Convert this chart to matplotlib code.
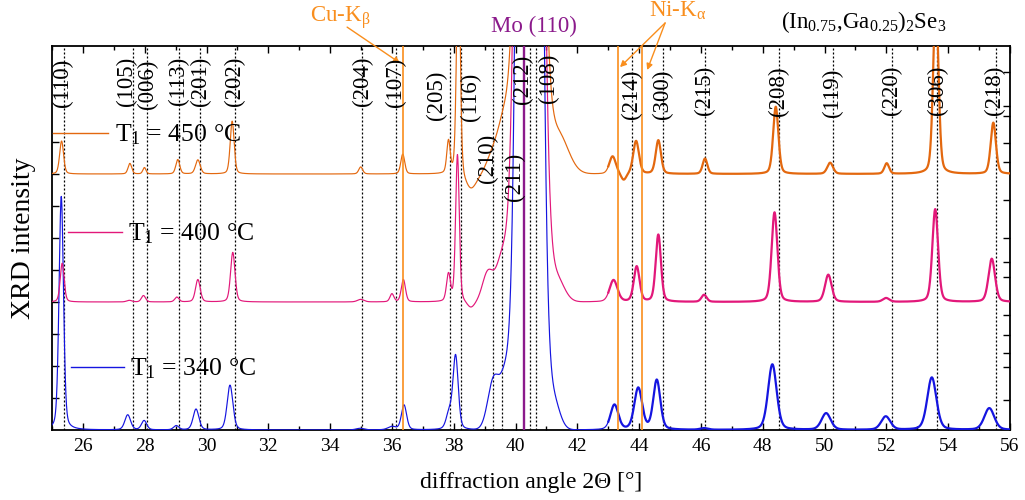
import numpy as np
import matplotlib
matplotlib.use('Agg')
import matplotlib.pyplot as plt

plt.rcParams['font.family'] = ['Liberation Serif', 'DejaVu Serif']
plt.rcParams['mathtext.fontset'] = 'custom'
plt.rcParams['mathtext.rm'] = 'Liberation Serif'
plt.rcParams['mathtext.it'] = 'Liberation Serif:italic'
plt.rcParams['mathtext.bf'] = 'Liberation Serif:bold'

# ---------------- data ----------------
# peak tables (position [deg], height above curve baseline [a.u.], FWHM [deg])
blue_pos = [25.30, 27.45, 27.98, 29.02, 29.66, 30.76, 34.97, 36.00, 36.39, 37.85, 38.06,
            43.20, 43.97, 44.57, 46.10, 48.31, 50.05, 51.98, 53.47, 55.33]
blue_h = [7.3, 0.47, 0.29, 0.13, 0.65, 1.40, 0.05, 0.10, 0.78, 0.50, 2.30,
          0.78, 1.30, 1.55, 0.05, 2.05, 0.52, 0.42, 1.64, 0.68]
blue_w = [0.17, 0.22, 0.20, 0.20, 0.22, 0.22, 0.30, 0.30, 0.20, 0.22, 0.20,
          0.30, 0.30, 0.27, 0.30, 0.33, 0.35, 0.35, 0.35, 0.38]
blue_mo_pos = [39.30, 39.70, 40.45, 41.20]
blue_mo_h = [1.6, 1.6, 100.0, 1.0]
blue_mo_w = [0.45, 0.40, 0.55, 0.50]

pink_pos = [25.33, 27.50, 27.96, 29.04, 29.72, 30.85, 34.99, 36.00, 36.37, 37.83, 38.12,
            38.55, 43.17, 43.92, 44.62, 46.10, 48.38, 50.12, 51.99, 53.58, 55.41]
pink_h = [1.21, 0.05, 0.20, 0.15, 0.70, 1.55, 0.08, 0.25, 0.70, 0.85, 4.60,
          -0.20, 0.68, 1.10, 2.10, 0.22, 2.80, 0.85, 0.12, 2.90, 1.35]
pink_w = [0.15, 0.20, 0.16, 0.16, 0.18, 0.17, 0.25, 0.15, 0.16, 0.15, 0.14,
          0.30, 0.30, 0.22, 0.20, 0.20, 0.22, 0.25, 0.25, 0.22, 0.25]
pink_mo_pos = [39.10, 39.60, 40.45, 41.30]
pink_mo_h = [0.9, 1.5, 82.0, 0.8]
pink_mo_w = [0.40, 0.50, 0.60, 0.60]

orange_pos = [25.31, 27.52, 27.99, 29.07, 29.72, 30.83, 34.99, 36.35, 37.83, 38.15,
              38.55, 43.14, 43.50, 43.90, 44.62, 46.13, 48.42, 50.18, 52.01, 53.60, 55.46]
orange_h = [1.03, 0.33, 0.20, 0.45, 0.44, 1.65, 0.22, 0.62, 1.00, 7.00,
            -0.50, 0.55, -0.22, 1.03, 1.05, 0.48, 2.10, 0.35, 0.33, 5.50, 1.60]
orange_w = [0.15, 0.14, 0.12, 0.15, 0.18, 0.15, 0.15, 0.15, 0.13, 0.14,
            0.45, 0.25, 0.20, 0.22, 0.20, 0.18, 0.20, 0.22, 0.18, 0.20, 0.20]
orange_mo_pos = [39.30, 39.65, 40.45, 41.35]
orange_mo_h = [0.7, 1.5, 40.0, 1.3]
orange_mo_w = [0.50, 0.45, 0.65, 0.80]

curve_offsets = [0, 4, 8]
curve_labels = [r'T$_\mathrm{1}$ = 340 °C', r'T$_\mathrm{1}$ = 400 °C', r'T$_\mathrm{1}$ = 450 °C']

# reflections of (In0.75,Ga0.25)2Se3 (dotted lines) and their labels
refl_pos = [25.40, 27.61, 28.06, 29.10, 29.80, 30.92, 35.04, 36.13, 37.89, 38.23,
            39.28, 39.57, 40.46, 40.65, 43.78, 44.78, 46.13, 48.53, 50.27, 52.17,
            53.65, 55.54]
refl_labels = ['(110)', '(105)', '(006)', '(113)', '(201)', '(202)', '(204)', '(107)',
               '(205)', '(116)', '(210)', '(211)', '(212)', '(108)', '(214)', '(300)',
               '(215)', '(208)', '(119)', '(220)', '(306)', '(218)']
label_x = [25.35, 27.40, 28.10, 29.10, 29.80, 30.90, 35.04, 36.10, 37.45, 38.55,
           39.08, 39.98, 40.22, 41.05, 43.75, 44.75, 46.10, 48.50, 50.25, 52.15,
           53.65, 55.50]
label_y = [10.85, 10.9, 10.8, 10.9, 10.9, 10.9, 10.9, 10.85, 10.45, 10.4,
           8.5, 7.9, 10.95, 11.0, 10.5, 10.5, 10.6, 10.6, 10.55, 10.6, 10.6, 10.6]

cu_kb_pos = [36.37]
ni_ka_pos = [43.30, 44.09]
mo_pos = [40.28]

right_ticks = [0.94, 1.97, 2.41, 2.97, 3.59, 4.78, 5.25, 6.0, 7.19, 8.38, 8.97, 9.81, 10.13, 11.19]

# ---------------- drawing ----------------
c_orange = '#E3680F'
c_pink = '#E2187A'
c_blue = '#1515E0'
c_line_or = '#F98E1D'
c_purple = '#8B1A8B'


def peak_sum(x, pos, h, w, eta):
    y = np.zeros_like(x)
    for p, a, fw in zip(pos, h, w):
        d = (x - p) / fw
        g = np.exp(-4 * np.log(2) * d ** 2)
        lo = 1.0 / (1 + 4 * d ** 2)
        y += a * ((1 - eta) * g + eta * lo)
    return y


x = np.linspace(25, 56, 8000)
curves = []
for off, (p, h, w), (mp, mh, mw) in zip(
        curve_offsets,
        [(blue_pos, blue_h, blue_w), (pink_pos, pink_h, pink_w), (orange_pos, orange_h, orange_w)],
        [(blue_mo_pos, blue_mo_h, blue_mo_w), (pink_mo_pos, pink_mo_h, pink_mo_w),
         (orange_mo_pos, orange_mo_h, orange_mo_w)]):
    curves.append(off + peak_sum(x, p, h, w, 0.3) + peak_sum(x, mp, mh, mw, 0.0))

fig = plt.figure(figsize=(10.25, 5), dpi=100)
ax = fig.add_axes([52 / 1025, 70 / 500, 958 / 1025, 384 / 500])
ax.set_xlim(25, 56)
ax.set_ylim(0, 12)

# reference lines
for xp in refl_pos:
    ax.axvline(xp, color='black', lw=0.9, ls=(0, (1.6, 1.6)), zorder=1)

colors = [c_blue, c_pink, c_orange]
split = 43.0
for yc, col in zip(curves, colors):
    m1 = x <= split
    m2 = x >= split
    ax.plot(x[m1], yc[m1], color=col, lw=0.85, zorder=3)
    ax.plot(x[m2], yc[m2], color=col, lw=1.6, zorder=3)

for xp in cu_kb_pos + ni_ka_pos:
    ax.axvline(xp, color=c_line_or, lw=1.2, zorder=4)
for xp in mo_pos:
    ax.axvline(xp, color=c_purple, lw=1.7, zorder=4)

# reflection labels
for lx, ly, lt in zip(label_x, label_y, refl_labels):
    ax.text(lx, ly, lt, rotation=90, ha='center', va='center', fontsize=16.5, zorder=5)

# legend-like entries inside the axes
leg = [((0.001, 0.058), 0.773, 0.066, 0.751, c_orange, curve_labels[2]),
       ((0.0167, 0.073), 0.516, 0.079, 0.495, c_pink, curve_labels[1]),
       ((0.0198, 0.075), 0.164, 0.081, 0.143, c_blue, curve_labels[0])]
for (x0, x1), yl, xt, yt, col, lab in leg:
    ax.plot([x0, x1], [yl, yl], color=col, lw=1.0, transform=ax.transAxes, zorder=6)
    ax.text(xt, yt, lab, transform=ax.transAxes, fontsize=18.5, va='baseline', ha='left', zorder=6)

# annotations above the axes
ax.text(34.32, 12.76, r'Cu-K$_\mathrm{β}$', color=c_line_or, fontsize=16.5, ha='center',
        va='baseline', clip_on=False)
ax.annotate('', xy=(36.26, 11.47), xytext=(34.55, 12.59), annotation_clip=False,
            arrowprops=dict(arrowstyle='-|>', color=c_line_or, lw=1.0, mutation_scale=9,
                            shrinkA=0, shrinkB=0))
ax.text(45.23, 12.92, r'Ni-K$_\mathrm{α}$', color=c_line_or, fontsize=16.5, ha='center',
        va='baseline', clip_on=False)
for tip in [(43.38, 11.34), (44.26, 11.25)]:
    ax.annotate('', xy=tip, xytext=(44.84, 12.72), annotation_clip=False,
                arrowprops=dict(arrowstyle='-|>', color=c_line_or, lw=1.0, mutation_scale=9,
                                shrinkA=0, shrinkB=0))
ax.text(40.6, 12.44, 'Mo (110)', color=c_purple, fontsize=16.5, ha='center', va='baseline',
        clip_on=False)
ax.text(51.25, 12.55, r'(In$_\mathrm{0.75}$,Ga$_\mathrm{0.25}$)$_\mathrm{2}$Se$_\mathrm{3}$',
        color='black', fontsize=16.5, ha='center', va='baseline', clip_on=False)

# axes styling
ax.set_xticks(np.arange(26, 57, 2))
ax.set_xticks(np.arange(25, 57, 1), minor=True)
ax.set_yticks(np.arange(1, 10, 1))
ax.set_yticklabels([])
ax.tick_params(axis='x', which='both', direction='in', top=True, bottom=True, labelsize=14,
               pad=6)
ax.tick_params(axis='x', which='major', length=5, width=1)
ax.tick_params(axis='x', which='minor', length=3, width=1)
ax.tick_params(axis='y', which='both', direction='in', left=True, right=False, length=5, width=1)
for s in ax.spines.values():
    s.set_linewidth(1.3)

ax2 = ax.twinx()
ax2.set_ylim(0, 12)
ax2.set_yticks(right_ticks)
ax2.set_yticklabels([])
ax2.tick_params(axis='y', direction='in', length=5, width=1)
for s in ax2.spines.values():
    s.set_visible(False)

ax.set_xlabel('diffraction angle 2Θ [°]', fontsize=17, labelpad=12)
ax.set_ylabel('XRD intensity', fontsize=20, labelpad=8)

fig.savefig('out.png', dpi=100)
